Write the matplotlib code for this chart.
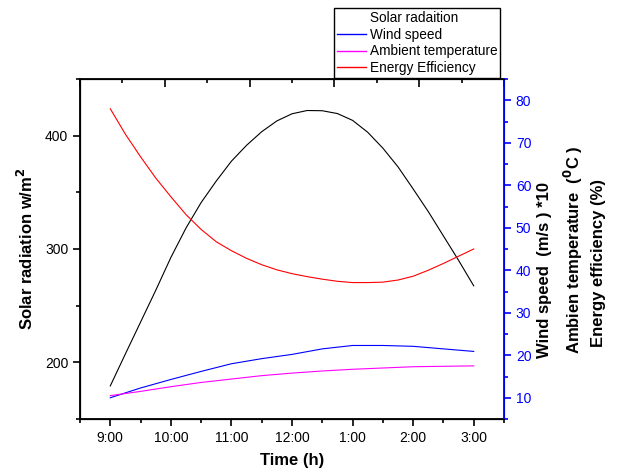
import matplotlib
matplotlib.use("Agg")
import matplotlib.pyplot as plt
from matplotlib.lines import Line2D
from matplotlib.ticker import MultipleLocator

plt.rcParams['font.family'] = ['Liberation Sans', 'DejaVu Sans']

tick_labels = ["9:00", "10:00", "11:00", "12:00", "1:00", "2:00", "3:00"]

# Time in hours after 9:00, quarter-hour readings (solar radiation, efficiency)
hours_q = [0, 0.25, 0.5, 0.75, 1, 1.25, 1.5, 1.75, 2, 2.25, 2.5, 2.75, 3,
           3.25, 3.5, 3.75, 4, 4.25, 4.5, 4.75, 5, 5.25, 5.5, 5.75, 6]

# Left axis (w/m^2)
solar = [179.2, 207.5, 235.5, 263.5, 292.5, 318.5, 341, 360, 377.5, 391.5, 403.5, 413, 419.3,
         422.2, 422, 419.5, 413.5, 403, 389, 372.5, 353, 333, 311.5, 290, 267.5]

# Right axis (%)
efficiency = [78.0, 72.0, 66.7, 61.7, 57.3, 53.1, 49.6, 46.7, 44.6, 42.8, 41.3, 40.1, 39.2,
              38.5, 37.9, 37.4, 37.1, 37.1, 37.2, 37.7, 38.6, 40.0, 41.6, 43.3, 45.0]

# Half-hour readings (wind speed, temperature)
hours_h = [0, 0.5, 1, 1.5, 2, 2.5, 3, 3.5, 4, 4.5, 5, 5.5, 6]
wind = [10.0, 12.3, 14.3, 16.2, 18.0, 19.2, 20.2, 21.5, 22.3, 22.3, 22.1, 21.5, 20.9]
temperature = [10.5, 11.5, 12.6, 13.6, 14.4, 15.2, 15.8, 16.3, 16.7, 17.0, 17.3, 17.4, 17.5]

fig = plt.figure(figsize=(6.17, 4.75), dpi=100)
ax = fig.add_axes([80/617, 1-419/475, 424/617, 340/475])

ax.plot(hours_q, solar, color="black", lw=0.8)
ax.set_xlim(-0.5, 6.5)
ax.set_ylim(150, 450)
ax.set_xticks(range(len(tick_labels)))
ax.set_xticklabels(tick_labels)
ax.xaxis.set_minor_locator(MultipleLocator(0.5))
ax.set_yticks([200, 300, 400])
ax.yaxis.set_minor_locator(MultipleLocator(50))
ax.tick_params(axis="both", which="major", direction="out", length=5, width=1.2, labelsize=10)
ax.tick_params(axis="both", which="minor", direction="out", length=3, width=1.2)
ax.set_xlabel("Time (h)", fontsize=12, fontweight="bold", labelpad=6)
ax.set_ylabel("Solar radiation w/m$^\\mathbf{2}$", fontsize=12, fontweight="bold", labelpad=6)
for s in ["left", "bottom", "top"]:
    ax.spines[s].set_linewidth(1.3)

# top axis ticks (no labels)
top = ax.twiny()
top.set_xlim(0, 10)
top.xaxis.set_major_locator(MultipleLocator(2))
top.xaxis.set_minor_locator(MultipleLocator(1))
top.tick_params(axis="x", which="major", direction="in", length=6, width=1.2, labeltop=False)
top.tick_params(axis="x", which="minor", direction="in", length=3, width=1.2)
top.spines["right"].set_visible(False)

ax2 = ax.twinx()
ax2.plot(hours_q, efficiency, color="red", lw=0.8)
ax2.plot(hours_h, wind, color="blue", lw=0.8)
ax2.plot(hours_h, temperature, color="magenta", lw=0.8)
ax2.set_ylim(5, 85)
ax2.set_yticks(range(10, 90, 10))
ax2.yaxis.set_minor_locator(MultipleLocator(5))
ax2.tick_params(axis="y", which="major", direction="out", length=5, width=1.2,
                colors="blue", labelsize=10)
ax2.tick_params(axis="y", which="minor", direction="out", length=3, width=1.2, colors="blue")
ax2.spines["right"].set_color("blue")
ax2.spines["right"].set_linewidth(1.3)

# right-hand labels
fig.text(545/617, 1-270/475, "Wind speed  (m/s ) *10", rotation=90, ha="center", va="center",
         fontsize=12, fontweight="bold")
fig.text(573/617, 1-250/475, "Ambien temperature  ($\\mathbf{^{0}}$C )", rotation=90,
         ha="center", va="center", fontsize=12, fontweight="bold")
fig.text(599/617, 1-263/475, "Energy efficiency (%)", rotation=90, ha="center", va="center",
         fontsize=12, fontweight="bold")

handles = [Line2D([], [], color="none"),
           Line2D([], [], color="blue", lw=1),
           Line2D([], [], color="magenta", lw=1),
           Line2D([], [], color="red", lw=1)]
labels = ["Solar radaition", "Wind speed", "Ambient temperature", "Energy Efficiency"]
leg = fig.legend(handles, labels, loc="upper left", bbox_to_anchor=(334/617, 1-8/475),
                 fontsize=9.8, frameon=True, fancybox=False, framealpha=1, edgecolor="black",
                 handlelength=2.1, handletextpad=0.3, borderpad=0.22, labelspacing=0.2,
                 borderaxespad=0)
leg.get_frame().set_linewidth(1.0)

fig.savefig("out.png", dpi=100)
